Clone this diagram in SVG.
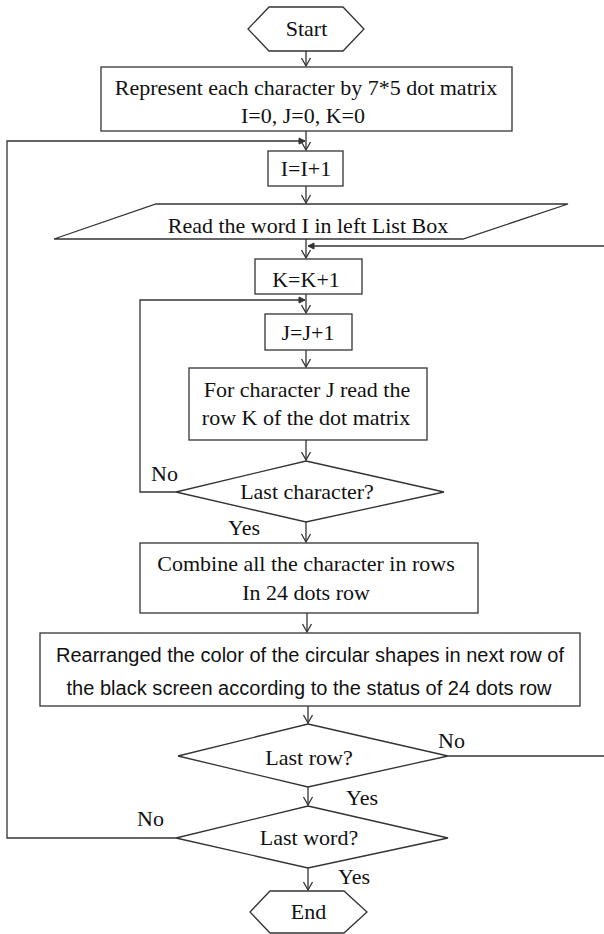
<svg xmlns="http://www.w3.org/2000/svg" width="604" height="934" viewBox="0 0 604 934">
<defs>
<style>
.n{fill:#fff;stroke:#333;stroke-width:1.3}
.c{fill:none;stroke:#333;stroke-width:1.3}
.t{font-family:"Liberation Serif","Times New Roman",serif;font-size:22px;fill:#111;text-anchor:middle}
.l{font-family:"Liberation Serif","Times New Roman",serif;font-size:22px;fill:#111}
.s{font-family:"Liberation Sans",Arial,sans-serif;font-size:20px;fill:#111;text-anchor:middle}
</style>
<marker id="a" markerUnits="userSpaceOnUse" markerWidth="12" markerHeight="12" viewBox="-10 -6 12 12" refX="0" refY="0" orient="auto">
<path d="M-8,-4.5 L0,0 L-8,4.5" fill="none" stroke="#333" stroke-width="1.3"/>
</marker>
<marker id="f" markerUnits="userSpaceOnUse" markerWidth="10" markerHeight="10" viewBox="-8 -5 10 10" refX="0" refY="0" orient="auto">
<path d="M-6,-3 L0,0 L-6,3 Z" fill="#333" stroke="#333" stroke-width="1"/>
</marker>
</defs>
<rect width="604" height="934" fill="#fff"/>
<g id="connectors">
<line class="c" x1="306" y1="51" x2="306" y2="66" marker-end="url(#a)"/>
<line class="c" x1="306" y1="131" x2="306" y2="150" marker-end="url(#a)"/>
<line class="c" x1="306" y1="186" x2="306" y2="203" marker-end="url(#a)"/>
<line class="c" x1="306" y1="239" x2="306" y2="258" marker-end="url(#a)"/>
<line class="c" x1="306" y1="294" x2="306" y2="313" marker-end="url(#a)"/>
<line class="c" x1="306" y1="350" x2="306" y2="367" marker-end="url(#a)"/>
<line class="c" x1="306" y1="440" x2="306" y2="460" marker-end="url(#a)"/>
<line class="c" x1="306" y1="522" x2="306" y2="542" marker-end="url(#a)"/>
<line class="c" x1="307" y1="613" x2="307" y2="632" marker-end="url(#a)"/>
<line class="c" x1="308" y1="706" x2="308" y2="723" marker-end="url(#a)"/>
<line class="c" x1="308" y1="787" x2="308" y2="805" marker-end="url(#a)"/>
<line class="c" x1="308" y1="868" x2="308" y2="890" marker-end="url(#a)"/>
<polyline class="c" points="176,838 7,838 7,141 305,141" marker-end="url(#f)"/>
<polyline class="c" points="176,492 140,492 140,300 305,300" marker-end="url(#f)"/>
<line class="c" x1="604" y1="246" x2="308" y2="246" marker-end="url(#f)"/>
<line class="c" x1="448" y1="756" x2="604" y2="756"/>
</g>
<g id="start">
<polygon class="n" points="248,29 269,7 343,7 364,29 343,51 269,51"/>
<text class="t" x="306.5" y="36">Start</text>
</g>
<g id="init">
<rect class="n" x="101" y="67" width="411" height="64"/>
<text class="t" x="306" y="95">Represent each character by 7*5 dot matrix</text>
<text class="t" x="303" y="123">I=0, J=0, K=0</text>
</g>
<g id="inc-i">
<rect class="n" x="268" y="151" width="75" height="35"/>
<text class="t" x="306" y="176">I=I+1</text>
</g>
<g id="read-word">
<polygon class="n" points="156,204 568,204 463,239 54,239"/>
<text class="t" x="308" y="233">Read the word I in left List Box</text>
</g>
<g id="inc-k">
<rect class="n" x="255" y="259" width="107" height="35"/>
<text class="t" x="306" y="287">K=K+1</text>
</g>
<g id="inc-j">
<rect class="n" x="265" y="314" width="87" height="36"/>
<text class="t" x="308" y="340">J=J+1</text>
</g>
<g id="read-row">
<rect class="n" x="189" y="368" width="238" height="72"/>
<text class="t" x="307" y="397">For character J read the</text>
<text class="t" x="306" y="425">row K of the dot matrix</text>
</g>
<g id="last-char">
<polygon class="n" points="306,461 444,492 306,522 176,492"/>
<text class="t" x="307" y="499">Last character?</text>
<text class="l" x="151" y="481">No</text>
<text class="l" x="228" y="535">Yes</text>
</g>
<g id="combine">
<rect class="n" x="140" y="543" width="338" height="70"/>
<text class="t" x="306" y="571">Combine all the character in rows</text>
<text class="t" x="306" y="600">In 24 dots row</text>
</g>
<g id="rearrange">
<rect class="n" x="40" y="633" width="540" height="73"/>
<text class="s" x="310" y="662" textLength="508">Rearranged the color of the circular shapes in next row of</text>
<text class="s" x="309" y="695" textLength="485">the black screen according to the status  of 24 dots row</text>
</g>
<g id="last-row">
<polygon class="n" points="308,724 448,756 308,787 178,756"/>
<text class="t" x="309" y="765">Last row?</text>
<text class="l" x="438" y="748">No</text>
<text class="l" x="346" y="805">Yes</text>
</g>
<g id="last-word">
<polygon class="n" points="308,806 448,838 308,868 176,838"/>
<text class="t" x="309" y="845">Last word?</text>
<text class="l" x="137" y="826">No</text>
<text class="l" x="338" y="884">Yes</text>
</g>
<g id="end">
<polygon class="n" points="250,912 270,891 344,891 367,912 344,933 270,933"/>
<text class="t" x="308.5" y="919">End</text>
</g>
</svg>
